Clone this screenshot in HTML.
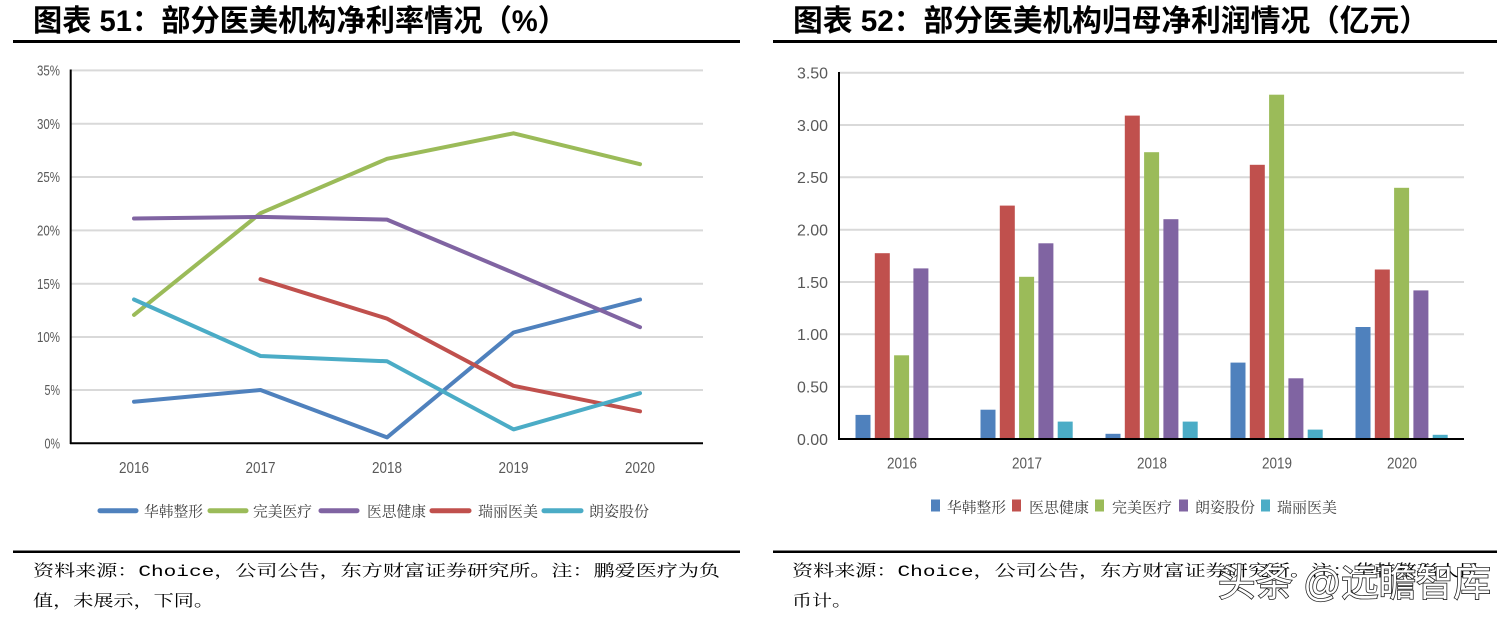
<!DOCTYPE html>
<html><head><meta charset="utf-8"><style>
html,body{margin:0;padding:0;background:#fff;width:1512px;height:620px;overflow:hidden}
svg{display:block}
.t{font-family:"Liberation Sans","Noto Sans CJK SC",sans-serif;font-weight:bold;font-size:30px;fill:#000}
.ax{font-family:"Liberation Sans",sans-serif;font-size:16px;fill:#595959}
.lg{font-family:"Liberation Serif","Noto Serif CJK SC",serif;font-size:15px;fill:#404040}
.ft{font-family:"Liberation Mono","Noto Serif CJK SC",serif;font-size:16px;fill:#000}
.wm{font-family:"Liberation Sans","Noto Sans CJK SC",sans-serif;font-size:38px;fill:#fff;stroke:#222;stroke-width:1.6px;paint-order:stroke}
</style></head><body>
<svg width="1512" height="620" viewBox="0 0 1512 620" xmlns="http://www.w3.org/2000/svg">
<!-- Titles -->
<text class="t" x="33" y="31" textLength="534" lengthAdjust="spacingAndGlyphs">图表 51：部分医美机构净利率情况（%）</text>
<text class="t" x="793" y="31" textLength="636" lengthAdjust="spacingAndGlyphs">图表 52：部分医美机构归母净利润情况（亿元）</text>
<rect x="13" y="40" width="727" height="3" fill="#000"/>
<rect x="773" y="40" width="724" height="3" fill="#000"/>

<!-- LEFT CHART -->
<g stroke="#d9d9d9" stroke-width="2">
<line x1="71" y1="70.4" x2="703" y2="70.4"/>
<line x1="71" y1="123.7" x2="703" y2="123.7"/>
<line x1="71" y1="177" x2="703" y2="177"/>
<line x1="71" y1="230.4" x2="703" y2="230.4"/>
<line x1="71" y1="283.7" x2="703" y2="283.7"/>
<line x1="71" y1="337" x2="703" y2="337"/>
<line x1="71" y1="390" x2="703" y2="390"/>
</g>
<g class="ax" text-anchor="end" style="font-size:15px">
<text x="60" y="75.6" textLength="23" lengthAdjust="spacingAndGlyphs">35%</text>
<text x="60" y="128.9" textLength="23" lengthAdjust="spacingAndGlyphs">30%</text>
<text x="60" y="182.2" textLength="23" lengthAdjust="spacingAndGlyphs">25%</text>
<text x="60" y="235.6" textLength="23" lengthAdjust="spacingAndGlyphs">20%</text>
<text x="60" y="288.9" textLength="23" lengthAdjust="spacingAndGlyphs">15%</text>
<text x="60" y="342.2" textLength="23" lengthAdjust="spacingAndGlyphs">10%</text>
<text x="60" y="395.2" textLength="15.5" lengthAdjust="spacingAndGlyphs">5%</text>
<text x="60" y="448.5" textLength="15.5" lengthAdjust="spacingAndGlyphs">0%</text>
</g>
<g class="ax" text-anchor="middle">
<text x="134" y="473" textLength="30" lengthAdjust="spacingAndGlyphs">2016</text>
<text x="260.5" y="473" textLength="30" lengthAdjust="spacingAndGlyphs">2017</text>
<text x="387" y="473" textLength="30" lengthAdjust="spacingAndGlyphs">2018</text>
<text x="513.5" y="473" textLength="30" lengthAdjust="spacingAndGlyphs">2019</text>
<text x="640" y="473" textLength="30" lengthAdjust="spacingAndGlyphs">2020</text>
</g>
<g fill="none" stroke-width="4" stroke-linejoin="round" stroke-linecap="round">
<polyline stroke="#4F81BD" points="134,401.7 260.5,390 387,437.4 513.5,332.5 640,299.5"/>
<polyline stroke="#9BBB59" points="134,314.9 260.5,213.2 387,158.8 513.5,133.3 640,164.2"/>
<polyline stroke="#8064A2" points="134,218.5 260.5,216.9 387,219.6 513.5,272.8 640,327.2"/>
<polyline stroke="#C0504D" points="260.5,279.2 387,318.6 513.5,385.8 640,411.3"/>
<polyline stroke="#4BACC6" points="134,299.5 260.5,356 387,361.3 513.5,429.4 640,393.2"/>
</g>
<line x1="70.7" y1="69.5" x2="70.7" y2="444" stroke="#000" stroke-width="2"/>
<line x1="70" y1="443.3" x2="703" y2="443.3" stroke="#000" stroke-width="2"/>
<!-- left legend -->
<g stroke-width="5" stroke-linecap="round">
<line x1="100" y1="510.7" x2="136" y2="510.7" stroke="#4F81BD"/>
<line x1="210" y1="510.7" x2="246" y2="510.7" stroke="#9BBB59"/>
<line x1="321" y1="510.7" x2="357" y2="510.7" stroke="#8064A2"/>
<line x1="432" y1="510.7" x2="469" y2="510.7" stroke="#C0504D"/>
<line x1="544" y1="510.7" x2="581" y2="510.7" stroke="#4BACC6"/>
</g>
<g class="lg">
<text x="144" y="516.5" textLength="59" lengthAdjust="spacingAndGlyphs">华韩整形</text>
<text x="253" y="516.5" textLength="59" lengthAdjust="spacingAndGlyphs">完美医疗</text>
<text x="367" y="516.5" textLength="59" lengthAdjust="spacingAndGlyphs">医思健康</text>
<text x="478" y="516.5" textLength="60" lengthAdjust="spacingAndGlyphs">瑞丽医美</text>
<text x="589" y="516.5" textLength="60" lengthAdjust="spacingAndGlyphs">朗姿股份</text>
</g>

<!-- RIGHT CHART -->
<g stroke="#d9d9d9" stroke-width="2">
<line x1="839" y1="72.7" x2="1464" y2="72.7"/>
<line x1="839" y1="125" x2="1464" y2="125"/>
<line x1="839" y1="177.3" x2="1464" y2="177.3"/>
<line x1="839" y1="229.7" x2="1464" y2="229.7"/>
<line x1="839" y1="282" x2="1464" y2="282"/>
<line x1="839" y1="334.3" x2="1464" y2="334.3"/>
<line x1="839" y1="386.7" x2="1464" y2="386.7"/>
</g>
<g class="ax" text-anchor="end" style="font-size:16px">
<text x="828" y="78.5" textLength="31" lengthAdjust="spacingAndGlyphs">3.50</text>
<text x="828" y="130.8" textLength="31" lengthAdjust="spacingAndGlyphs">3.00</text>
<text x="828" y="183.1" textLength="31" lengthAdjust="spacingAndGlyphs">2.50</text>
<text x="828" y="235.5" textLength="31" lengthAdjust="spacingAndGlyphs">2.00</text>
<text x="828" y="287.8" textLength="31" lengthAdjust="spacingAndGlyphs">1.50</text>
<text x="828" y="340.1" textLength="31" lengthAdjust="spacingAndGlyphs">1.00</text>
<text x="828" y="392.5" textLength="31" lengthAdjust="spacingAndGlyphs">0.50</text>
<text x="828" y="444.8" textLength="31" lengthAdjust="spacingAndGlyphs">0.00</text>
</g>
<g class="ax" text-anchor="middle">
<text x="902" y="468.5" textLength="30" lengthAdjust="spacingAndGlyphs">2016</text>
<text x="1027" y="468.5" textLength="30" lengthAdjust="spacingAndGlyphs">2017</text>
<text x="1152" y="468.5" textLength="30" lengthAdjust="spacingAndGlyphs">2018</text>
<text x="1277" y="468.5" textLength="30" lengthAdjust="spacingAndGlyphs">2019</text>
<text x="1402" y="468.5" textLength="30" lengthAdjust="spacingAndGlyphs">2020</text>
</g>
<!-- bars -->
<g fill="#4F81BD">
<rect x="855.5" y="414.9" width="15" height="24.1"/>
<rect x="980.5" y="409.7" width="15" height="29.3"/>
<rect x="1105.5" y="433.8" width="15" height="5.2"/>
<rect x="1230.5" y="362.6" width="15" height="76.4"/>
<rect x="1355.5" y="327" width="15" height="112"/>
</g>
<g fill="#C0504D">
<rect x="874.8" y="253.2" width="15" height="185.8"/>
<rect x="999.8" y="205.6" width="15" height="233.4"/>
<rect x="1124.8" y="115.6" width="15" height="323.4"/>
<rect x="1249.8" y="164.8" width="15" height="274.2"/>
<rect x="1374.8" y="269.5" width="15" height="169.5"/>
</g>
<g fill="#9BBB59">
<rect x="894.1" y="355.3" width="15" height="83.7"/>
<rect x="1019.1" y="276.8" width="15" height="162.2"/>
<rect x="1144.1" y="152.2" width="15" height="286.8"/>
<rect x="1269.1" y="94.7" width="15" height="344.3"/>
<rect x="1394.1" y="187.8" width="15" height="251.2"/>
</g>
<g fill="#8064A2">
<rect x="913.4" y="268.4" width="15" height="170.6"/>
<rect x="1038.4" y="243.3" width="15" height="195.7"/>
<rect x="1163.4" y="219.2" width="15" height="219.8"/>
<rect x="1288.4" y="378.3" width="15" height="60.7"/>
<rect x="1413.4" y="290.4" width="15" height="148.6"/>
</g>
<g fill="#4BACC6">
<rect x="1057.7" y="421.6" width="15" height="17.4"/>
<rect x="1182.7" y="421.6" width="15" height="17.4"/>
<rect x="1307.7" y="429.6" width="15" height="9.4"/>
<rect x="1432.7" y="434.8" width="15" height="4.2"/>
</g>
<line x1="839" y1="72" x2="839" y2="440" stroke="#000" stroke-width="2"/>
<line x1="838" y1="439" x2="1464" y2="439" stroke="#000" stroke-width="2"/>
<!-- right legend -->
<rect x="931" y="499.5" width="9" height="12" fill="#4F81BD"/>
<rect x="1012" y="499.5" width="9" height="12" fill="#C0504D"/>
<rect x="1095" y="499.5" width="9" height="12" fill="#9BBB59"/>
<rect x="1179" y="499.5" width="9" height="12" fill="#8064A2"/>
<rect x="1261" y="499.5" width="9" height="12" fill="#4BACC6"/>
<g class="lg">
<text x="947" y="512.5" textLength="59" lengthAdjust="spacingAndGlyphs">华韩整形</text>
<text x="1029" y="512.5" textLength="60" lengthAdjust="spacingAndGlyphs">医思健康</text>
<text x="1112" y="512.5" textLength="60" lengthAdjust="spacingAndGlyphs">完美医疗</text>
<text x="1195" y="512.5" textLength="60" lengthAdjust="spacingAndGlyphs">朗姿股份</text>
<text x="1277" y="512.5" textLength="60" lengthAdjust="spacingAndGlyphs">瑞丽医美</text>
</g>

<!-- Footers -->
<rect x="13" y="550.5" width="727" height="2.5" fill="#000"/>
<rect x="773" y="550.5" width="724" height="2.5" fill="#000"/>
<text class="ft" x="33" y="576" textLength="687" lengthAdjust="spacingAndGlyphs">资料来源：Choice，公司公告，东方财富证券研究所。注：鹏爱医疗为负</text>
<text class="ft" x="33" y="606" textLength="181" lengthAdjust="spacingAndGlyphs">值，未展示，下同。</text>
<text class="ft" x="792" y="576" textLength="688" lengthAdjust="spacingAndGlyphs">资料来源：Choice，公司公告，东方财富证券研究所。注：华韩整形人民</text>
<text class="ft" x="792" y="606" textLength="60" lengthAdjust="spacingAndGlyphs">币计。</text>
<!-- watermark -->
<text class="wm" x="1218" y="596" textLength="273" lengthAdjust="spacingAndGlyphs">头条 @远瞻智库</text>
</svg>
</body></html>
